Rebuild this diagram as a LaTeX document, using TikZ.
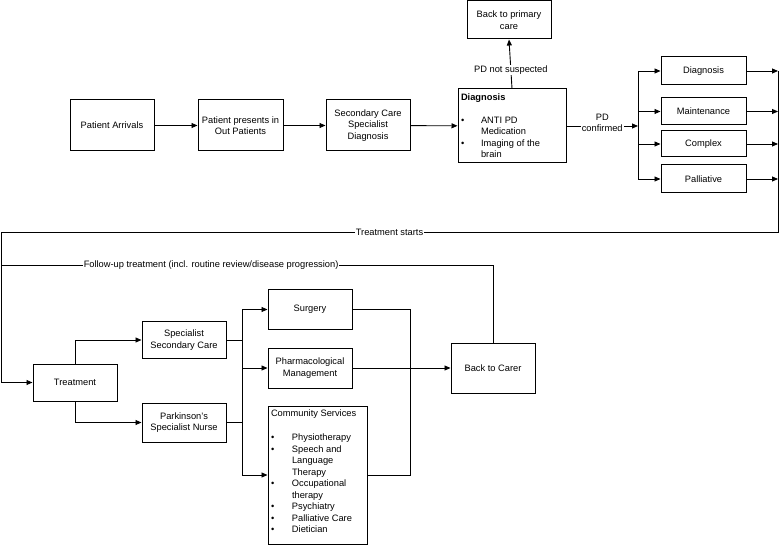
\documentclass[tikz,border=0pt]{standalone}
\usepackage{fontspec}
\setmainfont{Liberation Sans}
\usepackage{tikz}
\usepackage{tkz-euclide}
\usepackage{xcolor}
\usetikzlibrary{arrows.meta}

\tikzset{
  caixa/.style={draw, line width=1pt, minimum width=84pt, align=center, inner sep=2pt, font=\fontsize{9.3}{11.5}\selectfont},
  seta/.style={line width=0.9pt, -{Triangle[length=6pt,width=5pt]}},
  linha/.style={line width=0.9pt},
  rotulo/.style={fill=white, inner sep=1pt, align=center, font=\fontsize{9.3}{10.5}\selectfont}
}

\begin{document}
\begin{tikzpicture}[x=1pt, y=-1pt] %uma unidade = um ponto, eixo y para baixo

\useasboundingbox (0,0) rectangle (779,545);

%O comando \tkzDefPoints define os pontos de dobra das linhas (x/y/NomedoPonto)
\tkzDefPoints{
638/126/PC,
638/71/BD1,
638/179/BD4,
778/71/RD1,
778/111.5/RD2,
778/144/RD3,
778/179/RD4,
778/232/RB,
1/232/LB,
1/265/LF,
1/382.5/LT,
493/265/FC,
242/309.5/B1,
242/340/B2,
242/368/B3,
242/422.5/B4,
242/475/B5,
410/309.5/D1,
410/475/D2}

%Caixas da primeira linha: chegada do paciente ate o diagnostico
%---------------------------------------------------
\node[caixa, minimum height=51pt] (chegada) at (112,125.5) {Patient Arrivals};
\node[caixa, minimum width=85pt, minimum height=51pt] (ambulatorio) at (240.5,125.5) {Patient presents in\\Out Patients};
\node[caixa, minimum height=51pt] (secundario) at (368,125.5) {Secondary Care\\Specialist\\Diagnosis};
\node[caixa, inner sep=3pt] (diagnostico) at (512,126) {\parbox[c][68pt][t]{102pt}{\raggedright
  \vspace*{1.5pt}\textbf{Diagnosis}\par\vspace{12pt}
  \begin{tabular}{@{}p{20pt}@{}l@{}}
  \textbullet & ANTI PD\\ & Medication\\ \textbullet & Imaging of the\\ & brain
  \end{tabular}}};
\node[caixa, minimum height=38pt] (primaria) at (509,20) {Back to primary\\care};
%---------------------------------------------------

%Caixas do lado direito (tipos de tratamento)
%---------------------------------------------------
\node[caixa, minimum width=85pt, minimum height=28pt] (dx) at (703.5,71) {Diagnosis};
\node[caixa, minimum width=85pt, minimum height=27pt] (manutencao) at (703.5,111.5) {Maintenance};
\node[caixa, minimum width=85pt, minimum height=26pt] (complexo) at (703.5,144) {Complex};
\node[caixa, minimum width=85pt, minimum height=28pt] (paliativo) at (703.5,179) {Palliative};
%---------------------------------------------------

%Caixas da parte de baixo
%---------------------------------------------------
\node[caixa, minimum height=37pt] (tratamento) at (75,382.5) {Treatment};
\node[caixa, minimum height=36pt] (especialista) at (184,340) {Specialist\\Secondary Care};
\node[caixa, minimum height=39pt] (enfermeira) at (184,422.5) {Parkinson's\\Specialist Nurse};
\node[caixa, minimum height=39pt] (cirurgia) at (310,309.5) {Surgery};
\node[caixa, minimum height=40pt] (farmaco) at (310,368) {Pharmacological\\Management};
\node[caixa, inner sep=3pt] (comunidade) at (317.5,475) {\parbox[c][132pt][t]{93pt}{\raggedright
  \vspace*{1pt}Community Services\par\vspace{13pt}
  \begin{tabular}{@{}p{21pt}@{}l@{}}
  \textbullet & Physiotherapy\\ \textbullet & Speech and\\ & Language\\ & Therapy\\
  \textbullet & Occupational\\ & therapy\\ \textbullet & Psychiatry\\
  \textbullet & Palliative Care\\ \textbullet & Dietician
  \end{tabular}}};
\node[caixa, minimum height=50pt] (cuidador) at (493,368) {Back to Carer};
%---------------------------------------------------

%Setas da primeira linha
%---------------------------------------------------
\draw[seta] (chegada) -- (ambulatorio);
\draw[seta] (ambulatorio) -- (secundario);
\draw[seta] (secundario) -- (diagnostico);
\draw[seta] (diagnostico.north) -- node[rotulo, pos=0.38] (naosuspeito) {PD not suspected} (primaria.south);
\draw[seta] (diagnostico.east) -- node[rotulo, yshift=3pt] (confirmado) {PD\\confirmed} (PC);
%---------------------------------------------------

%Barramento que distribui para os tipos de tratamento
%---------------------------------------------------
\draw[linha] (BD1) -- (BD4);
\draw[seta] (BD1) -- (dx.west);
\draw[seta] (manutencao.west -| BD1) -- (manutencao.west);
\draw[seta] (complexo.west -| BD1) -- (complexo.west);
\draw[seta] (BD4) -- (paliativo.west);
%---------------------------------------------------

%Saidas dos tipos de tratamento e retorno para o inicio do tratamento
%---------------------------------------------------
\draw[seta] (dx.east) -- (RD1);
\draw[seta] (manutencao.east) -- (RD2);
\draw[seta] (complexo.east) -- (RD3);
\draw[seta] (paliativo.east) -- (RD4);
\draw[linha] (RD1) -- (RB) -- node[rotulo] (inicio) {Treatment starts} (LB) -- (LT);
\draw[seta] (LT) -- (tratamento.west);
\draw[linha] (cuidador.north) -- (FC) -- node[rotulo, pos=0.573] (seguimento) {Follow-up treatment (incl. routine review/disease progression)} (LF);
%---------------------------------------------------

%Ramos do tratamento
%---------------------------------------------------
\draw[seta] (tratamento.north) |- (especialista.west);
\draw[seta] (tratamento.south) |- (enfermeira.west);
\draw[linha] (especialista.east) -- (B2);
\draw[linha] (enfermeira.east) -- (B4);
\draw[linha] (B1) -- (B5);
\draw[seta] (B1) -- (cirurgia.west);
\draw[seta] (B3) -- (farmaco.west);
\draw[seta] (B5) -- (comunidade.west);
\draw[linha] (cirurgia.east) -- (D1) -- (D2) -- (comunidade.east);
\draw[seta] (farmaco.east) -- (cuidador.west);
%---------------------------------------------------

\end{tikzpicture}
\end{document}
